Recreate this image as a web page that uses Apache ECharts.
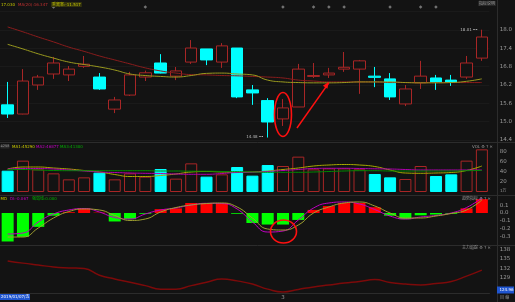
<!DOCTYPE html>
<html><head><meta charset="utf-8">
<script src="https://cdn.jsdelivr.net/npm/echarts@6/dist/echarts.min.js"></script>
<style>html,body{margin:0;padding:0;background:#131313;overflow:hidden}#c{width:515px;height:302px}</style>
</head><body><div id="c"></div>
<script>
// ---- data ----
const categories = ['01-29','01-30','01-31','02-01','02-11','02-12','02-13','02-14','02-15','02-18','02-19','02-20','02-21','02-22','02-25','02-26','02-27','02-28','03-01','03-04','03-05','03-06','03-07','03-08','03-11','03-12','03-13','03-14','03-15','03-18','03-19','03-20'];
const monthMarks = {'03-01':'3'};
const opens  = [15.55,15.25,16.20,16.56,16.53,16.81,16.46,15.41,15.87,16.46,16.92,16.49,16.95,17.38,16.95,17.41,16.04,15.69,15.09,15.48,16.48,16.53,16.72,16.72,16.49,16.40,15.58,16.27,16.43,16.36,16.46,17.08];
const closes = [15.25,16.33,16.46,16.92,16.72,16.88,16.07,15.71,16.53,16.60,16.59,16.66,17.41,17.02,17.48,15.81,15.94,14.99,15.45,16.72,16.51,16.59,16.78,16.99,16.45,15.81,16.07,16.49,16.30,16.29,16.92,17.77];
const lows   = [15.12,15.24,16.04,16.40,16.33,16.76,16.04,15.28,15.84,16.33,16.58,16.36,16.89,16.85,16.76,15.77,15.55,14.48,14.86,15.48,16.43,16.43,16.63,15.91,16.13,15.71,15.51,16.07,16.04,16.17,16.40,16.99];
const highs  = [16.30,16.72,16.53,17.12,16.82,17.15,16.59,15.81,16.63,16.67,17.21,16.79,17.67,17.38,17.57,17.41,16.20,15.77,15.74,16.89,16.92,16.76,17.28,17.02,16.79,16.59,16.20,16.99,16.53,16.53,17.15,18.01];
const maLong = [18.10,17.94,17.77,17.61,17.44,17.30,17.15,17.02,16.89,16.76,16.66,16.59,16.54,16.53,16.51,16.50,16.48,16.46,16.43,16.36,16.33,16.30,16.30,16.30,16.30,16.28,16.28,16.28,16.28,16.28,16.28,16.28];
const maMid  = [17.53,17.38,17.22,17.08,16.95,16.87,16.79,16.69,16.56,16.51,16.48,16.46,16.51,16.58,16.59,16.56,16.53,16.36,16.30,16.28,16.27,16.27,16.28,16.30,16.30,16.30,16.28,16.27,16.27,16.28,16.32,16.40];
const eventDays = ['02-01','02-18','03-01','03-05','03-06','03-07','03-12','03-14','03-15'];
const vols   = [42.6,62.7,45.3,37.3,25.3,29.3,38.7,25.3,37.3,30.7,46.0,26.7,57.3,30.7,35.3,50.0,32.7,54.0,52.0,70.7,45.3,47.3,47.3,45.3,36.0,29.3,26.0,52.0,32.0,35.3,62.7,85.3];
const volMA1 = [46,50,50,48,46,43,40,35,31,31,33,36,40,41,40,39.4,40,42,45,48,52,54,55,54,51,44,38,37.4,38,39,43,52];
const volMA2 = [46,47,47,46,44,42,40,39,38,37.4,37,36,35.4,35.4,37,39,39.4,41,43,45,47,47.4,47.4,47,46.4,46,45,44,44,44,44,44];
const volMA3 = [45,45,44,43,42.6,42.6,42.6,42.6,42.6,42.6,42,42,41.6,41.6,41,40.6,40,39.4,39.4,39.4,40,41,42,42.6,42.6,42,42,42,42,42,42.6,43];
const macd   = [-0.37,-0.31,-0.18,-0.035,0.01,0.06,0.005,-0.11,-0.08,-0.01,0.05,0.06,0.13,0.13,0.13,-0.01,-0.13,-0.15,-0.15,-0.09,0.04,0.09,0.13,0.13,0.075,-0.035,-0.08,-0.03,-0.02,-0.01,0.06,0.18];
const dif    = [-0.273,-0.260,-0.117,-0.013,0.039,0.058,0.013,-0.058,-0.078,-0.013,0.039,0.065,0.104,0.126,0.123,0.052,-0.117,-0.247,-0.234,-0.091,0.065,0.130,0.143,0.117,0.045,-0.039,-0.078,-0.052,-0.032,0.000,0.071,0.195];
const dea    = [-0.312,-0.312,-0.195,-0.065,0.019,0.052,0.039,-0.032,-0.097,-0.078,0.013,0.071,0.104,0.123,0.130,0.078,-0.065,-0.208,-0.221,-0.156,0.000,0.078,0.130,0.143,0.091,0.000,-0.065,-0.065,-0.039,-0.006,0.039,0.169];
const track  = [134.4,133.7,133.1,132.5,132.2,132.0,129.9,128.7,127.7,126.6,125.5,125.5,126.6,127.7,128.7,128.1,127.1,125.5,124.6,125.4,126.2,126.8,127.4,127.9,128.5,127.6,127.1,126.8,127.3,127.9,129.6,131.5];
const volTicks = [20,40,60,80];

// ---- chart ----
const RED = '#a82626', CYAN = '#00ffff', BG = '#131313';
const chart = echarts.init(document.getElementById('c'));
const FONT = 'DejaVu Sans';
const L = -1.675, W = 491.2;
const lbl = {color:'#9a9a9a', fontSize:5.5, margin:2.5, fontFamily:FONT};
const candleData = categories.map((_, i) => [opens[i], closes[i], lows[i], highs[i]]);
const volData = vols.map((v, i) => ({value: v, itemStyle: closes[i] >= opens[i]
  ? {color: BG, borderColor: RED, borderWidth: 1}
  : {color: CYAN, borderColor: CYAN, borderWidth: 1}}));
const macdData = macd.map(v => ({value: v, itemStyle: {color: v >= 0 ? '#ff0000' : '#00ff00'}}));
const xa = (g, extra) => Object.assign({type:'category', data: categories, gridIndex: g, boundaryGap: true, show: false}, extra || {});
const ya = (g, extra) => Object.assign({type:'value', gridIndex: g, position:'right', offset: 7.8, scale: true,
  axisLine:{show:false}, axisTick:{show:false}, splitLine:{show:false}, axisLabel: Object.assign({}, lbl)}, extra || {});

chart.setOption({
  backgroundColor: BG,
  animation: false,
  grid: [
    {left: L, width: W, top: 11.65, height: 128.35},
    {left: L, width: W, top: 142, height: 50},
    {left: L, width: W, top: 197.6, height: 46.2},
    {left: L, width: W, top: 249.5, height: 47.55}
  ],
  xAxis: [
    xa(0), xa(1), xa(2),
    xa(3, {show: true, position: 'bottom', offset: -4.05,
      axisLine: {lineStyle: {color: '#2c2c2c'}}, axisTick: {show: false},
      axisLabel: Object.assign({}, lbl, {interval: 0, margin: 2, formatter: v => monthMarks[v] || ''})})
  ],
  yAxis: [
    ya(0, {min: 14.4, max: 18.6, interval: 0.6, axisLabel: Object.assign({}, lbl, {showMaxLabel: false, formatter: v => v.toFixed(1)}),
      splitLine: {show: true, lineStyle: {color: '#1a1a1a'}}}),
    ya(1, {min: 0, max: 100, interval: 20, axisLabel: Object.assign({}, lbl, {formatter: v => volTicks.includes(v) ? String(v) : ''})}),
    ya(2, {min: -0.4, max: 0.2, interval: 0.1, axisLabel: Object.assign({}, lbl, {showMinLabel: false, showMaxLabel: false, formatter: v => v.toFixed(1)})}),
    ya(3, {min: 123, max: 138, interval: 3, axisLabel: Object.assign({}, lbl, {formatter: v => v >= 129 ? String(v) : ''})})
  ],
  series: [
    {type: 'candlestick', xAxisIndex: 0, yAxisIndex: 0, data: candleData, barWidth: 12,
      itemStyle: {color: BG, color0: CYAN, borderColor: RED, borderColor0: CYAN, borderWidth: 1}},
    {type: 'line', xAxisIndex: 0, yAxisIndex: 0, data: maLong, smooth: true, symbol: 'none', lineStyle: {color: '#8a1c1c', width: 1}},
    {type: 'line', xAxisIndex: 0, yAxisIndex: 0, data: maMid, smooth: true, symbol: 'none', lineStyle: {color: '#9a9a1e', width: 1}},
    {type: 'scatter', xAxisIndex: 0, yAxisIndex: 0, clip: false, symbol: 'diamond', symbolSize: 3.5,
      itemStyle: {color: '#8c8c8c'}, data: eventDays.map(d => [d, 18.75])},
    {type: 'bar', xAxisIndex: 1, yAxisIndex: 1, data: volData, barWidth: 12},
    {type: 'line', xAxisIndex: 1, yAxisIndex: 1, data: volMA1, smooth: true, symbol: 'none', lineStyle: {color: '#a8a800', width: 1}},
    {type: 'line', xAxisIndex: 1, yAxisIndex: 1, data: volMA2, smooth: true, symbol: 'none', lineStyle: {color: '#b000b0', width: 1}},
    {type: 'line', xAxisIndex: 1, yAxisIndex: 1, data: volMA3, smooth: true, symbol: 'none', lineStyle: {color: '#008c00', width: 1}},
    {type: 'bar', xAxisIndex: 2, yAxisIndex: 2, data: macdData, barWidth: 12},
    {type: 'line', xAxisIndex: 2, yAxisIndex: 2, data: dif, smooth: true, symbol: 'none', lineStyle: {color: '#c000c0', width: 1}},
    {type: 'line', xAxisIndex: 2, yAxisIndex: 2, data: dea, smooth: true, symbol: 'none', lineStyle: {color: '#a0a030', width: 1}},
    {type: 'line', xAxisIndex: 3, yAxisIndex: 3, data: track, smooth: true, symbol: 'none', lineStyle: {color: '#7c0a0a', width: 1.5}}
  ]
});

// ---- overlays positioned from data ----
const px = (g, x, y) => chart.convertToPixel({gridIndex: g}, [x, y]);
const iHi = highs.indexOf(Math.max(...highs)), iLo = lows.indexOf(Math.min(...lows));
const pHi = px(0, iHi, highs[iHi]), pLo = px(0, iLo, lows[iLo]);
const iMark = 18;
const pMarkTop = px(0, iMark, highs[iMark]), pMarkBot = px(0, iMark, lows[iMark]);
const pArrowEnd = px(0, iMark + 2.6, maMid[iMark + 3]);
const pMacdLo = px(2, iMark - 0.5, macd[iMark]);
const F4 = '4px "DejaVu Sans", "Noto Sans CJK SC", sans-serif';
const T = (x, y, s, c, extra) => ({type: 'text', x, y, z: 50, style: Object.assign({text: s, fill: c, font: F4, textVerticalAlign: 'middle'}, extra || {})});
const line = (x1, y1, x2, y2, c, w) => ({type: 'line', z: 40, shape: {x1, y1, x2, y2}, style: {stroke: c, lineWidth: w || 1}});
const g = [
  line(497.5, 0, 497.5, 302, '#2c2c2c'),
  line(0, 142.5, 515, 142.5, '#2c2c2c'),
  line(0, 195.5, 515, 195.5, '#2c2c2c'),
  line(0, 245.5, 515, 245.5, '#2c2c2c'),
  T(1, 4.5, '17.030', '#c8c800'),
  T(18, 4.5, 'MA(20):16.347', '#c03030'),
  T(51, 4.5, '乖离率:-11.517', '#c8c800', {backgroundColor: '#33330e', padding: [0.5, 1]}),
  T(478, 3.5, '指标说明', '#9a9a9a', {backgroundColor: '#262626', padding: [0.5, 1]}),
  T(0.5, 146.5, '4258', '#9a9a9a', {backgroundColor: '#2a2a2a', font: '3.5px "DejaVu Sans", sans-serif'}),
  T(12, 146.5, 'MA1:45290', '#c8c800'),
  T(36, 146.5, 'MA2:46877', '#c000c0'),
  T(60, 146.5, 'MA3:41300', '#00b000'),
  T(472, 146.5, 'VOL ⚙ ? ✕', '#9a9a9a'),
  T(500, 191, '1万', '#9a9a9a'),
  T(0.5, 198.5, 'MD', '#c8c800'),
  T(10, 198.5, 'DI:-0.067', '#c000c0'),
  T(32, 198.5, '强弱线:0.000', '#00b000'),
  T(462, 198.5, '趋势指标 ⚙ ? ✕', '#9a9a9a'),
  T(462, 248, '主力追踪 ⚙ ? ✕', '#9a9a9a'),
  {type: 'rect', z: 45, shape: {x: 0, y: 294, width: 30, height: 6}, style: {fill: '#1f55d0'}},
  T(1, 297, '2019/01/07/五', '#ffffff'),
  {type: 'rect', z: 45, shape: {x: 497, y: 286.5, width: 17, height: 7}, style: {fill: '#1f55d0'}},
  T(499.5, 290, '124.96', '#ffffff'),
  T(500, 297.5, '目 缩', '#9a9a9a'),
  T(pHi[0] - 4, pHi[1], highs[iHi].toFixed(2) + ' ━•', '#bbbbbb', {textAlign: 'right'}),
  T(pLo[0] - 4, pLo[1] - 1, lows[iLo].toFixed(2) + ' ━•', '#bbbbbb', {textAlign: 'right'}),
  {type: 'ellipse', z: 60, shape: {cx: pMarkTop[0], cy: (pMarkTop[1] + pMarkBot[1]) / 2 + 2, rx: 8.5, ry: 22},
    style: {fill: 'none', stroke: '#ff1010', lineWidth: 1.6}},
  {type: 'ellipse', z: 60, shape: {cx: pMacdLo[0] + 0.5, cy: pMacdLo[1] + 7, rx: 13, ry: 11.5},
    style: {fill: 'none', stroke: '#ff1010', lineWidth: 1.6}},
  line(pMarkTop[0] + 14, pMarkBot[1] + 2, pArrowEnd[0], pArrowEnd[1], '#ff1010', 1.5),
  {type: 'polygon', z: 60, shape: {points: [[pArrowEnd[0], pArrowEnd[1] - 1], [pArrowEnd[0] - 6, pArrowEnd[1] + 3], [pArrowEnd[0] - 1.5, pArrowEnd[1] + 6]]}, style: {fill: '#ff1010'}}
];
chart.setOption({graphic: g});
</script>
</body></html>
